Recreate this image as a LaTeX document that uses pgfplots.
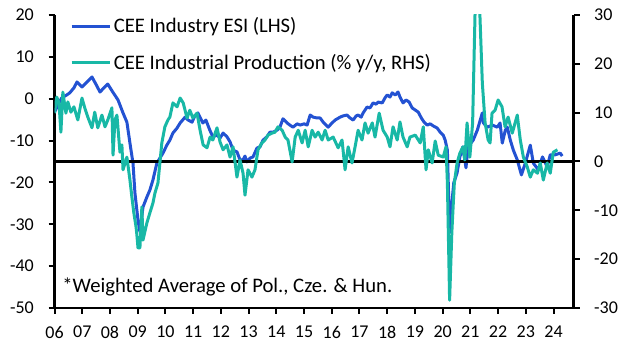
\documentclass[border=0pt]{standalone}
\usepackage{pgfplots}
\pgfplotsset{compat=1.18}
\usepackage{fontspec}
\setmainfont{Carlito}
\definecolor{esiblue}{RGB}{35,82,210}
\definecolor{ipteal}{RGB}{24,184,166}

\pgfplotstableread{
t v
2006.00 -3.2
2006.12 -1.5
2006.26 0.2
2006.44 0.9
2006.55 1.4
2006.70 2.6
2006.81 4.0
2006.99 2.8
2007.17 4.0
2007.35 5.2
2007.49 3.5
2007.64 1.6
2007.78 2.6
2007.92 3.5
2008.10 1.6
2008.29 -0.3
2008.47 -3.4
2008.61 -5.6
2008.72 -10.6
2008.83 -15.4
2008.90 -22.5
2009.01 -29.0
2009.08 -31.8
2009.19 -25.9
2009.33 -23.5
2009.44 -21.8
2009.55 -19.4
2009.69 -15.4
2009.80 -14.2
2009.91 -13.0
2010.05 -11.1
2010.16 -9.9
2010.27 -8.2
2010.42 -7.0
2010.53 -5.8
2010.71 -4.4
2010.82 -5.1
2010.96 -5.6
2011.06 -4.1
2011.17 -3.4
2011.35 -5.8
2011.46 -5.1
2011.60 -7.5
2011.71 -9.1
2011.86 -8.7
2011.97 -9.4
2012.08 -8.2
2012.22 -9.1
2012.33 -10.3
2012.44 -12.3
2012.58 -12.7
2012.69 -14.6
2012.80 -14.6
2012.87 -13.7
2012.94 -15.1
2013.05 -14.2
2013.16 -13.9
2013.30 -11.8
2013.41 -11.5
2013.52 -9.9
2013.66 -9.1
2013.77 -8.0
2013.88 -8.0
2014.03 -7.5
2014.13 -6.8
2014.24 -4.8
2014.39 -5.8
2014.49 -6.3
2014.60 -6.8
2014.75 -6.0
2014.86 -6.3
2015.00 -6.0
2015.11 -6.3
2015.22 -3.9
2015.33 -4.4
2015.47 -4.6
2015.58 -4.6
2015.69 -5.6
2015.87 -6.8
2015.98 -6.0
2016.12 -5.1
2016.30 -4.4
2016.41 -4.1
2016.55 -3.9
2016.66 -4.6
2016.77 -5.1
2016.88 -4.1
2016.95 -3.9
2017.06 -4.4
2017.13 -3.4
2017.27 -2.0
2017.38 -2.2
2017.49 -1.0
2017.60 -1.3
2017.67 -0.8
2017.82 -1.0
2017.92 0.2
2018.00 0.9
2018.10 0.4
2018.18 1.4
2018.29 0.9
2018.39 1.6
2018.46 0.4
2018.57 -1.0
2018.68 -0.3
2018.79 -0.8
2018.90 -2.2
2019.01 -2.7
2019.12 -3.2
2019.23 -4.6
2019.33 -5.6
2019.44 -6.3
2019.55 -6.0
2019.66 -6.5
2019.80 -7.0
2019.91 -8.0
2020.02 -8.7
2020.09 -9.9
2020.17 -12.3
2020.25 -32.0
2020.33 -25.0
2020.40 -20.1
2020.52 -17.7
2020.62 -13.9
2020.73 -11.5
2020.84 -16.5
2020.92 -11.5
2021.10 -9.9
2021.25 -7.5
2021.43 -3.4
2021.47 -5.8
2021.61 -6.8
2021.79 -6.3
2021.97 -6.8
2022.07 -5.8
2022.15 -10.6
2022.26 -7.5
2022.33 -6.8
2022.44 -9.9
2022.55 -12.3
2022.69 -14.6
2022.84 -18.2
2022.98 -15.4
2023.16 -11.1
2023.27 -15.4
2023.45 -17.0
2023.60 -13.9
2023.77 -16.3
2023.88 -13.4
2024.06 -13.4
2024.24 -13.0
2024.31 -13.7
}\esi

\pgfplotstableread{
t v
2006.00 9.9
2006.08 13.2
2006.16 12.0
2006.23 6.0
2006.30 14.2
2006.41 9.9
2006.48 12.2
2006.59 10.1
2006.70 11.2
2006.84 8.5
2006.99 13.0
2007.09 11.0
2007.20 9.1
2007.35 6.9
2007.45 10.1
2007.56 6.9
2007.71 9.5
2007.82 7.1
2007.92 8.5
2008.07 11.0
2008.11 1.3
2008.18 8.5
2008.25 9.5
2008.36 1.9
2008.43 3.4
2008.47 -1.7
2008.61 0.9
2008.72 -3.8
2008.79 -7.3
2008.86 -10.5
2008.94 -13.4
2008.97 -15.0
2009.01 -17.7
2009.08 -17.7
2009.15 -9.3
2009.19 -16.1
2009.33 -12.6
2009.44 -10.5
2009.55 -8.5
2009.62 -6.5
2009.73 -4.4
2009.80 -0.3
2009.87 3.8
2009.98 7.1
2010.09 8.5
2010.16 9.1
2010.27 12.0
2010.42 11.2
2010.53 13.0
2010.64 12.0
2010.78 8.9
2010.88 10.5
2010.99 8.9
2011.14 9.9
2011.25 6.4
2011.36 3.4
2011.50 2.8
2011.61 5.0
2011.71 4.4
2011.86 6.9
2011.97 4.0
2012.08 2.4
2012.22 3.4
2012.33 0.9
2012.44 3.0
2012.58 -3.2
2012.69 0.3
2012.80 -2.4
2012.87 -6.9
2012.98 -1.7
2013.12 -3.2
2013.23 -1.7
2013.34 2.4
2013.48 3.8
2013.59 4.4
2013.70 5.4
2013.84 5.8
2013.95 6.0
2014.06 7.1
2014.21 6.4
2014.32 5.0
2014.42 4.4
2014.57 -0.1
2014.68 5.0
2014.79 6.4
2014.93 3.8
2015.04 6.4
2015.15 3.0
2015.29 6.4
2015.40 5.0
2015.51 6.0
2015.65 4.4
2015.76 6.4
2015.87 4.4
2016.05 5.0
2016.23 2.8
2016.37 4.4
2016.48 -1.7
2016.59 3.0
2016.73 -0.3
2016.84 3.0
2016.95 6.4
2017.09 4.4
2017.20 7.9
2017.31 5.8
2017.46 7.9
2017.56 5.0
2017.71 9.9
2017.85 6.4
2018.00 5.0
2018.10 3.0
2018.21 7.1
2018.36 4.4
2018.46 8.1
2018.57 5.0
2018.72 3.0
2018.82 5.0
2019.01 5.4
2019.19 3.8
2019.30 7.1
2019.40 -1.7
2019.48 2.4
2019.62 -0.3
2019.73 4.2
2019.84 1.3
2020.02 0.9
2020.12 3.0
2020.17 -4.4
2020.25 -28.4
2020.33 -14.6
2020.42 -4.4
2020.52 -0.3
2020.62 1.7
2020.73 3.0
2020.80 0.3
2020.88 7.9
2020.98 0.9
2021.08 7.9
2021.17 31.0
2021.25 50.0
2021.33 32.0
2021.43 16.1
2021.53 7.9
2021.64 4.4
2021.71 3.8
2021.78 9.9
2021.89 10.5
2022.00 12.6
2022.14 11.2
2022.25 7.1
2022.36 9.1
2022.51 5.8
2022.69 9.5
2022.80 4.4
2022.91 0.9
2023.05 -1.1
2023.16 -3.2
2023.27 -1.7
2023.42 -2.4
2023.52 -0.3
2023.63 -3.8
2023.77 -0.3
2023.88 -2.4
2023.99 1.9
2024.14 2.4
}\ip

\begin{document}
\begin{tikzpicture}
\pgfplotsset{
  base/.style={
    scale only axis, width=389.25pt, height=219.75pt,
    xmin=2006, xmax=2024.72,
    /pgf/number format/assume math mode=true,
    tick style={line width=1.5pt, black},
    major tick length=4.5pt,
    tick align=outside,
    axis line style={line width=2pt, -},
    tick label style={font=\fontsize{13.5}{16}\selectfont},
    clip=true,
  }
}
\begin{axis}[base, name=main,
  ymin=-50, ymax=20, ytick={-50,-40,...,20},
  axis x line*=bottom, axis y line*=left,
  xtick={2006,...,2024},
  xticklabels={06,07,08,09,10,11,12,13,14,15,16,17,18,19,20,21,22,23,24},
  yticklabel style={xshift=-7.5pt},
  xticklabel style={yshift=-5.5pt},
  legend style={at={(rel axis cs:0.022,1.01)}, anchor=north west, draw=none, fill=none,
    row sep=10.5pt, font=\fontsize{15.5}{18}\selectfont},
  legend cell align=left,
  legend image code/.code={\draw[#1, line width=2.25pt] (0pt,0pt) -- (28.5pt,0pt);},
]
\addplot[esiblue, line width=2.25pt, line join=round] table[x=t, y=v] {\esi};
\addlegendentry{CEE Industry ESI (LHS)}
\addlegendimage{ipteal}
\addlegendentry{CEE Industrial Production (\% y/y, RHS)}
\addplot[black, line width=2pt, forget plot] coordinates {(2006,-15) (2024.72,-15)};
\node[anchor=west, font=\fontsize{15.5}{18}\selectfont] at (rel axis cs:0.006,0.072) {*Weighted Average of Pol., Cze. \& Hun.};
\end{axis}
\begin{axis}[base,
  ymin=-30, ymax=30, ytick={-30,-20,...,30},
  axis x line=none, axis y line*=right,
  yticklabel style={xshift=7.5pt},
]
\addplot[ipteal, line width=2.25pt, line join=round] table[x=t, y=v] {\ip};
\end{axis}
\pgfresetboundingbox
\path[use as bounding box] ([xshift=-40.9pt,yshift=-33pt]main.south west) rectangle ([xshift=40.1pt,yshift=11.25pt]main.north east);
\end{tikzpicture}
\end{document}
